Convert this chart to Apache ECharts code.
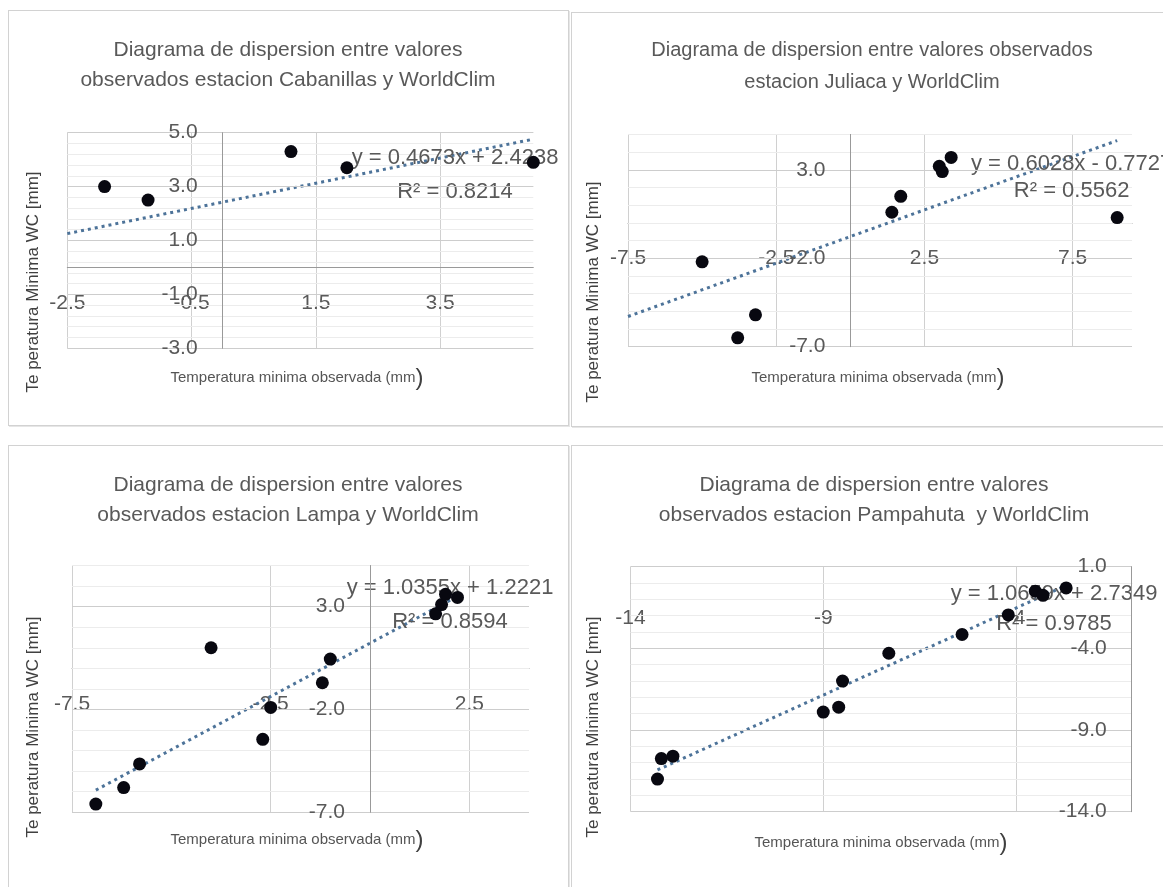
<!DOCTYPE html>
<html>
<head>
<meta charset="utf-8">
<title>Diagramas de dispersion WorldClim</title>
<script src="https://cdn.jsdelivr.net/npm/echarts@6.0.0/dist/echarts.min.js"></script>
<style>
  html, body { margin: 0; padding: 0; background: #fff; }
  body { position: relative; width: 1163px; height: 887px; overflow: hidden; }
  .panel { position: absolute; background: #fff; }
  .panel .chart { position: absolute; left: 0; top: 0; width: 100%; height: 100%; }
  .panel .frame { position: absolute; left: 0; top: 0; right: 0; bottom: 0; box-sizing: border-box;
                  border: 1px solid #d2d2d2; box-shadow: 1px 1px 0 #e6e6e6; pointer-events: none; }
</style>
</head>
<body>
<div class="panel" id="p0" style="left:8px;top:10px;width:561px;height:416px"><div class="chart"></div><div class="frame"></div></div>
<div class="panel" id="p1" style="left:571px;top:12px;width:620px;height:415px"><div class="chart"></div><div class="frame"></div></div>
<div class="panel" id="p2" style="left:8px;top:445px;width:561px;height:470px"><div class="chart"></div><div class="frame"></div></div>
<div class="panel" id="p3" style="left:571px;top:445px;width:620px;height:470px"><div class="chart"></div><div class="frame"></div></div>
<script>
// Estaciones
const stations = ['Cabanillas', 'Juliaca', 'Lampa', 'Pampahuta'];

// Temperatura minima observada (X) y temperatura minima WorldClim (Y)
const cabanillasObs = [-1.9, -1.2, 1.1, 2.0, 5.0];
const cabanillasWC  = [3.0, 2.5, 4.3, 3.7, 3.9];
const juliacaObs = [-5.0, -3.8, -3.2, 1.4, 1.7, 3.0, 3.1, 3.4, 9.0];
const juliacaWC  = [-2.2, -6.5, -5.2, 0.6, 1.5, 3.2, 2.9, 3.7, 0.3];
const lampaObs = [-6.9, -6.2, -5.8, -4.0, -2.7, -2.5, -1.2, -1.0, 1.65, 1.8, 1.9, 2.2];
const lampaWC  = [-6.6, -5.8, -4.65, 1.0, -3.45, -1.9, -0.7, 0.45, 2.65, 3.1, 3.6, 3.45];
const pampahutaObs = [-13.3, -13.2, -12.9, -9.0, -8.6, -8.5, -7.3, -5.4, -4.2, -3.5, -3.3, -2.7];
const pampahutaWC  = [-12.0, -10.75, -10.6, -7.9, -7.6, -6.0, -4.3, -3.15, -1.95, -0.5, -0.75, -0.3];

// Lineas de tendencia: y = pendiente * x + intercepto, con su R2 y el tramo en X
const trendSlope     = [0.4673, 0.6028, 1.0355, 1.0659];
const trendIntercept = [2.4238, -0.7727, 1.2221, 2.7349];
const trendR2        = [0.8214, 0.5562, 0.8594, 0.9785];
const trendFrom      = [-2.5, -7.5, -6.9, -13.3];
const trendTo        = [5.0, 9.0, 2.2, -2.7];

// Ejes: extremos, marcas principales y paso de la cuadricula secundaria
const xRange = [[-2.5, 5.0], [-7.5, 9.5], [-7.5, 4.0], [-14, -1]];
const xTicks = [[-2.5, -0.5, 1.5, 3.5], [-7.5, -2.5, 2.5, 7.5], [-7.5, -2.5, 2.5], [-14, -9, -4]];
const xDecimals = [1, 1, 1, 0];
const yRange = [[-3, 5], [-7, 5], [-7, 5], [-14, 1]];
const yTicks = [[-3, -1, 1, 3, 5], [-7, -2, 3], [-7, -2, 3], [-14, -9, -4, 1]];
const yMinorStep = [0.4, 1, 1, 1];

// Textos
const titleLines = [
  ['Diagrama de dispersion entre valores', 'observados estacion Cabanillas y WorldClim'],
  ['Diagrama de dispersion entre valores observados', 'estacion Juliaca y WorldClim'],
  ['Diagrama de dispersion entre valores', 'observados estacion Lampa y WorldClim'],
  ['Diagrama de dispersion entre valores', 'observados estacion Pampahuta  y WorldClim']
];
const xAxisTitle = 'Temperatura minima observada (mm';
const yAxisTitle = 'Te peratura Minima WC [mm]';

const obsSeries = [cabanillasObs, juliacaObs, lampaObs, pampahutaObs];
const wcSeries  = [cabanillasWC, juliacaWC, lampaWC, pampahutaWC];

// Disposicion de cada panel (pixeles dentro del panel)
const layout = [
  { grid: [59.3, 122.7, 466, 215.6], yPos: 'left',  title: [280, 40, 70], titleSize: 21, yt: [25, 272], xt: [289, 368], eq: [447, 147.5, 181.7] },
  { grid: [57, 122.4, 504, 212.3],   yPos: 'left',  title: [301, 38, 70], titleSize: 20, yt: [22, 280], xt: [307, 366], eq: [500.6, 152, 179] },
  { grid: [64, 120.5, 457, 246.8],   yPos: 'left',  title: [280, 40, 70], titleSize: 21, yt: [25, 282], xt: [289, 395], eq: [442, 143.3, 177.3] },
  { grid: [59.5, 121.7, 501.2, 245], yPos: 'right', title: [303, 40, 70], titleSize: 21, yt: [22, 282], xt: [310, 398], eq: [483, 149, 179] }
];

const FONT = '"Liberation Sans", Arial, sans-serif';
const GRAY = '#595959';
const AXIS_GRAY = '#999999';

function minorValues(range, step) {
  const out = [];
  const n = Math.round((range[1] - range[0]) / step);
  for (let i = 0; i <= n; i++) out.push(+(range[0] + i * step).toFixed(6));
  return out;
}

function equationText(i) {
  const m = trendSlope[i], b = trendIntercept[i];
  return 'y = ' + m.toFixed(4) + 'x ' + (b < 0 ? '- ' : '+ ') + Math.abs(b).toFixed(4);
}

// Distancia (px) desde el borde del area de trazado hasta el valor cero del eje
function zeroShift(range, size) {
  if (range[0] >= 0 || range[1] <= 0) return 0;
  return (0 - range[0]) / (range[1] - range[0]) * size;
}

function textEl(x, y, text, font, fill, extra) {
  return Object.assign({ type: 'text', x: x, y: y, z: 3,
    style: { text: text, font: font, fill: fill, align: 'center', verticalAlign: 'middle',
             textAlign: 'center', textVerticalAlign: 'middle' } }, extra || {});
}

function buildPanel(i) {
  const L = layout[i];
  const dom = document.querySelector('#p' + i + ' .chart');
  const chart = echarts.init(dom, null, { renderer: 'canvas' });
  const pts = obsSeries[i].map((x, k) => [x, wcSeries[i][k]]);
  const m = trendSlope[i], b = trendIntercept[i];
  const trend = [[trendFrom[i], m * trendFrom[i] + b], [trendTo[i], m * trendTo[i] + b]];
  const labelStyle = { fontFamily: FONT, fontSize: 21, color: GRAY };
  // los ejes se cruzan en cero: el eje X sube hasta y = 0 y el eje Y se desplaza hasta x = 0
  const xAxisShift = -zeroShift(yRange[i], L.grid[3]);
  const yAxisShift = L.yPos === 'left' ? -zeroShift(xRange[i], L.grid[2]) : 0;

  const titleFont = L.titleSize + 'px ' + FONT;
  const yTitle = textEl(L.yt[0], L.yt[1], yAxisTitle, '17px ' + FONT, '#404040', { rotation: Math.PI / 2 });
  const xTitle = { type: 'text', x: L.xt[0], y: L.xt[1], z: 3, style: {
      text: '{a|' + xAxisTitle + '}{b|)}', align: 'center', verticalAlign: 'middle', textAlign: 'center', textVerticalAlign: 'middle',
      rich: { a: { font: '15px ' + FONT, fill: '#555555', color: '#555555' }, b: { font: '24px ' + FONT, fill: '#404040', color: '#404040' } } } };

  chart.setOption({
    animation: false,
    grid: { left: L.grid[0], top: L.grid[1], width: L.grid[2], height: L.grid[3], containLabel: false },
    xAxis: {
      type: 'value', min: xRange[i][0], max: xRange[i][1], position: 'bottom', offset: xAxisShift,
      axisLine: { show: true, onZero: false, lineStyle: { color: AXIS_GRAY, width: 1 } },
      axisTick: { show: false, customValues: xTicks[i] },
      axisLabel: Object.assign({ customValues: xTicks[i], margin: 25,
        formatter: v => Number(v).toFixed(xDecimals[i]) }, labelStyle),
      splitLine: { show: true, lineStyle: { color: '#d0d0d0', width: 1 } }
    },
    yAxis: [
      {
        type: 'value', min: yRange[i][0], max: yRange[i][1], position: L.yPos, offset: yAxisShift,
        axisLine: { show: true, onZero: false, lineStyle: { color: AXIS_GRAY, width: 1 } },
        axisTick: { show: false, customValues: yTicks[i] },
        axisLabel: Object.assign({ customValues: yTicks[i], margin: 25, inside: L.yPos === 'right',
          formatter: v => Number(v).toFixed(1) }, labelStyle),
        splitLine: { show: true, lineStyle: { color: '#cdcdcd', width: 1 } },
        z: 3
      },
      {
        type: 'value', min: yRange[i][0], max: yRange[i][1], position: L.yPos === 'left' ? 'right' : 'left',
        axisLine: { show: false }, axisLabel: { show: false },
        axisTick: { show: false, customValues: minorValues(yRange[i], yMinorStep[i]) },
        splitLine: { show: true, lineStyle: { color: '#ececec', width: 1 } },
        z: 1
      }
    ],
    series: [
      {
        name: 'Lineal (' + stations[i] + ')', type: 'line', data: trend, yAxisIndex: 0,
        showSymbol: false, symbol: 'none', clip: false, z: 2,
        lineStyle: { color: '#4d7399', width: 3, type: [3, 4], cap: 'butt', opacity: 1 }
      },
      {
        name: stations[i], type: 'scatter', data: pts, yAxisIndex: 0, clip: false, z: 5,
        symbol: 'circle', symbolSize: 13,
        itemStyle: { color: '#080810', borderWidth: 0, opacity: 1 }
      }
    ],
    graphic: [
      textEl(L.title[0], L.title[1], titleLines[i][0], titleFont, GRAY),
      textEl(L.title[0], L.title[2], titleLines[i][1], titleFont, GRAY),
      textEl(L.eq[0], L.eq[1], equationText(i), '22px ' + FONT, GRAY),
      textEl(L.eq[0], L.eq[2], 'R\u00b2 = ' + trendR2[i].toFixed(4), '22px ' + FONT, GRAY),
      yTitle,
      xTitle
    ]
  });
}

for (let i = 0; i < 4; i++) buildPanel(i);
</script>
</body>
</html>
